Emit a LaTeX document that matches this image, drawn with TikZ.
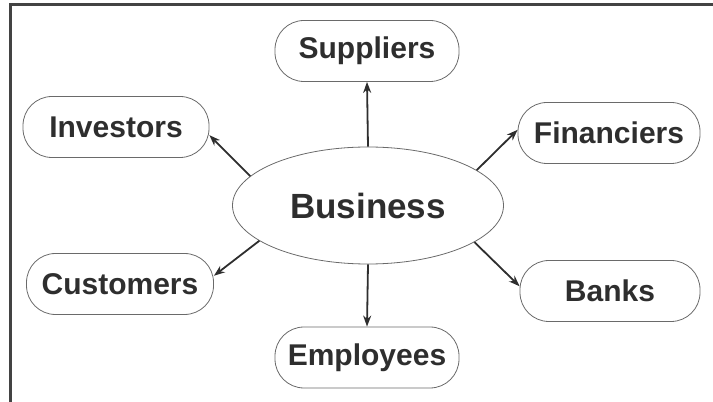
\documentclass[tikz,border=0pt]{standalone}
\usepackage{fontspec}
\setmainfont{Liberation Sans}
\usepackage{tikz}
\usetikzlibrary{shapes,arrows,positioning,calc,arrows.meta}
\definecolor{inkgray}{HTML}{2E2E2E}
\definecolor{edgegray}{HTML}{6A6A6A}

\begin{document}
\begin{tikzpicture}[x=1pt, y=1pt,
    party box/.style={draw=edgegray, line width=0.8pt, rectangle, rounded corners=29pt, minimum width=#1, minimum height=61pt, text=inkgray, font=\bfseries\fontsize{30}{32}\selectfont},
    biz node/.style={draw=edgegray, line width=0.8pt, ellipse, minimum width=271pt, minimum height=117pt, text=inkgray, font=\bfseries\fontsize{35}{38}\selectfont},
    >={Stealth[length=11pt, width=8pt]}, link/.style={->, draw=inkgray, line width=1.8pt}]
    \useasboundingbox (0,0) rectangle (713,402);
    % frame (only top and left edges show)
    \draw[line width=3pt, draw=inkgray!90] (10,0) -- (10,397) -- (713,397);

    \node[biz node] (biz) at (368,196.5) {Business};
    \node[party box=184pt] (sup) at (367,351) {Suppliers};
    \node[party box=186pt] (inv) at (116,275) {Investors};
    \node[party box=182pt] (fin) at (609,269) {Financiers};
    \node[party box=187pt] (cus) at (120,118) {Customers};
    \node[party box=180pt] (bnk) at (610,111) {Banks};
    \node[party box=184pt] (emp) at (367,44.5) {Employees};

    \draw[link] (biz.north) -- (sup.south);
    \draw[link] (biz.166) -- (inv.-5);
    \draw[link] (biz.18) -- (fin.178);
    \draw[link] (biz.198) -- (cus.5);
    \draw[link] (biz.-19) -- (bnk.177);
    \draw[link] (biz.south) -- (emp.north);
\end{tikzpicture}
\end{document}
